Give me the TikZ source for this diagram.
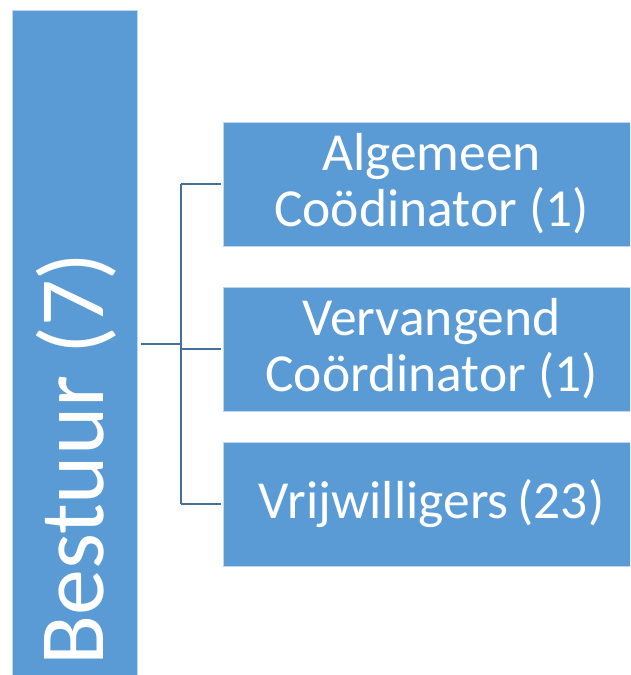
\documentclass[tikz,border=0pt]{standalone}
\usepackage{fontspec}
\setmainfont{Carlito}
\definecolor{boxblue}{HTML}{5B9BD5}
\definecolor{linkblue}{HTML}{41719C}
\begin{document}
\begin{tikzpicture}[x=1pt,y=-1pt,
  box/.style={draw=white!60!boxblue, line width=0.8pt, fill=boxblue, text=white,
    inner sep=0pt, outer sep=0pt, align=center, anchor=north west},
  child/.style={box, minimum width=417pt, minimum height=124pt,
    font=\fontsize{53.5}{56}\selectfont},
  link/.style={draw=linkblue, line width=1.6pt}]
\useasboundingbox (0,0) rectangle (630,675);
\clip (0,0) rectangle (630,675);
\node[box, minimum width=125pt, minimum height=700pt] (root) at (12,10) {};
\node[rotate=90, text=white, inner sep=0pt, font=\fontsize{92}{100}\selectfont] (rootlabel) at (76,459) {Bestuur (7)};
\node[child] (b1) at (223,122) {Algemeen\\Coödinator (1)};
\node[child] (b2) at (223,287) {Vervangend\\Coördinator (1)};
\node[child] (b3) at (223,442) {Vrijwilligers\,(23)};
\coordinate (j) at (180.7,344);
\draw[link] ([xshift=4pt]root.east |- j) -- (j);
\draw[link, shorten >=2pt] (b1.west -| j) -- (b1.west);
\draw[link, shorten >=2pt] (b2.west -| j) -- (b2.west);
\draw[link, shorten >=2pt] (b3.west -| j) -- (b3.west);
\draw[link] (b1.west -| j) -- (b3.west -| j);
\end{tikzpicture}
\end{document}
